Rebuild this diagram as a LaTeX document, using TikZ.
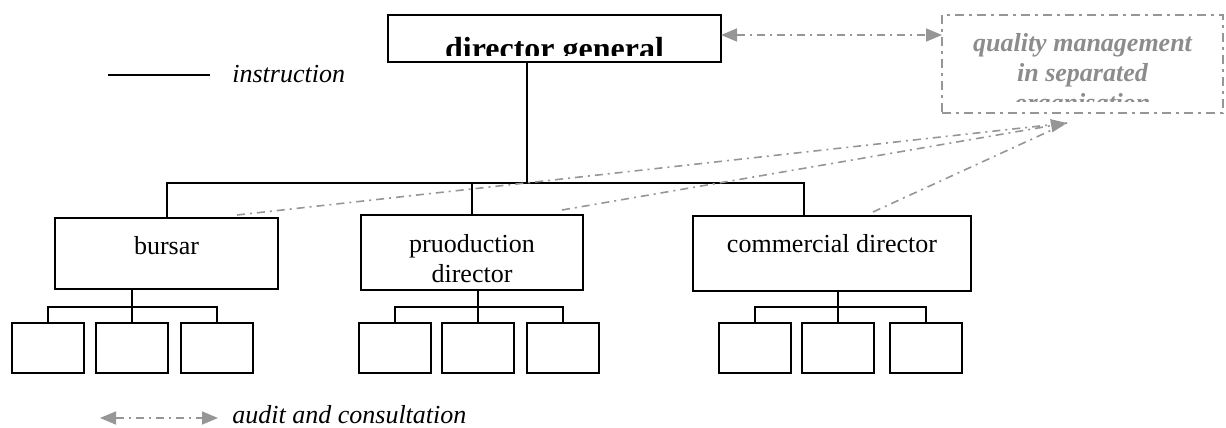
\documentclass[tikz,border=0pt]{standalone}
\usepackage{fontspec}
\setmainfont{Liberation Serif}
\usetikzlibrary{arrows.meta,positioning,calc}
\definecolor{auditgray}{RGB}{150,150,150}
\definecolor{qmgray}{RGB}{140,140,140}

\begin{document}
\begin{tikzpicture}[x=0.5pt,y=-0.5pt,
    wire/.style={line width=1pt},
    unit/.style args={#1/#2}{draw, line width=1pt, inner sep=0pt, outer sep=0pt,
      minimum width=#1, minimum height=#2},
    leaf/.style={unit=36pt/25pt},
    qbox/.style={draw=auditgray, line width=1.3pt, inner sep=0pt, outer sep=0pt,
      dash pattern=on 4.5pt off 2.5pt on 1.5pt off 2.5pt},
    txt/.style={inner sep=0pt, font=\fontsize{13}{15}\selectfont},
    audit/.style={auditgray, line width=0.8pt, dash pattern=on 4pt off 2.5pt on 1pt off 2.5pt},
    auditarrow/.style={-{Triangle[length=8pt,width=6.5pt]}},
    auditboth/.style={{Triangle[length=8pt,width=6.5pt]}-{Triangle[length=8pt,width=6.5pt]}}]
  \useasboundingbox (0,0) rectangle (1226,428);

  % head of the organisation
  \node[unit=166.5pt/23.5pt] (dg) at (554.5,38.5) {};
  \begin{scope}
    \clip (dg.north west) rectangle ($(dg.south east)+(0,-7)$);
    \node[inner sep=0pt, anchor=base, font=\fontsize{16}{18}\selectfont\bfseries]
      (dgtext) at ($(dg.south)+(0,-2.4)$) {director general};
  \end{scope}

  % quality unit kept outside the line
  \node[qbox, minimum width=140.5pt, minimum height=49pt] (qm) at (1082.5,64) {};
  \begin{scope}
    \clip (qm.north west) rectangle ($(qm.south east)+(0,-12)$);
    \node[txt, qmgray, anchor=north, align=center, font=\fontsize{13}{15}\selectfont\bfseries\itshape]
      (qmtext) at (1082.5,33) {quality management\\in separated\\organisation};
  \end{scope}

  % second level
  \node[unit=111.5pt/35.5pt] (bursar) at (166.5,253.5) {};
  \node[unit=111pt/37.5pt] (prod) at (472,252.5) {};
  \node[unit=139pt/37.5pt] (comm) at (832,253.5) {};
  \node[txt, anchor=base] (bursartext) at ($(bursar.north)+(0,36)$) {bursar};
  \node[txt, anchor=north, align=center] (prodtext) at ($(prod.north)+(0,19)$) {pruoduction\\director};
  \node[txt, anchor=base] (commtext) at ($(comm.north)+(0,36)$) {commercial director};

  \coordinate (hub) at (527,183);
  \coordinate (cdrop) at (804,183);
  \draw[wire] (dg.south -| hub) -- (hub);
  \draw[wire] (bursar.north) |- (cdrop) -- (cdrop |- comm.north);
  \draw[wire] (prod.north) -- (prod.north |- hub);

  % third level, three units under each
  \foreach \grp/\xa/\xb/\xc in {bursar/48/132/217, prod/394.5/477.5/563, comm/755/838/925.5} {
    \node[leaf] (\grp-1) at (\xa,348) {};
    \node[leaf] (\grp-2) at (\xb,348) {};
    \node[leaf] (\grp-3) at (\xc,348) {};
    \draw[wire] (\grp-2.north) -- (\grp-2.north |- \grp.south);
    \draw[wire] (\grp-1.north) -- ++(0,-16) -| (\grp-3.north);
  }

  % audit lines
  \coordinate (linky) at (0,35);
  \draw[audit, auditboth] (dg.east |- linky) -- (qm.west |- linky);
  \coordinate (qin) at (1067,123);
  \draw[audit] ($(bursar.north east)+(-41,-3)$) -- (qin);
  \draw[audit, auditarrow] ($(prod.north east)+(-21,-5)$) -- (qin);
  \draw[audit] ($(comm.north east)+(-98,-4)$) -- (qin);

  % legend
  \coordinate (insA) at (108,75);
  \coordinate (insB) at (210,75);
  \draw[wire] (insA) -- (insB);
  \node[txt, anchor=base west] (instext) at (232,82) {\itshape instruction};
  \coordinate (audA) at (100,418);
  \coordinate (audB) at (218,418);
  \draw[audit, auditboth] (audA) -- (audB);
  \node[txt, anchor=base west] (audtext) at (232,423) {\itshape audit and consultation};
\end{tikzpicture}
\end{document}
